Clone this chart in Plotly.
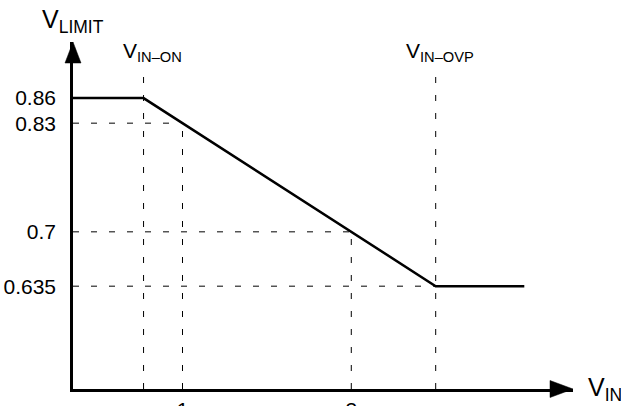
import plotly.graph_objects as go

# ---- data (read from the schematic) ----
y_tick_vals = [0.86, 0.83, 0.7, 0.635]
y_tick_text = ["0.86", "0.83", "0.7", "0.635"]
x_tick_vals = [1, 3]
x_tick_text = ["1", "3"]

v_limit_high = 0.86
v_limit_low = 0.635
x_in_on = 0.5385      # V_IN-ON (estimated)
x_in_ovp = 4.0        # V_IN-OVP (estimated)
x_end = 5.05          # end of drawn curve
guide_points_x = [1, 3]
guide_points_y = [0.83, 0.7]

X_RANGE = [-0.2974, 5.627]
Y_RANGE = [0.5120, 0.9271]

# ---- layout geometry ----
W, H = 621, 406
ML, MR, MT, MB = 73, 48, 42, 17
PW, PH = W - ML - MR, H - MT - MB


def px(x):
    return (x - ML) / PW


def py(y):
    return (H - MB - y) / PH


FONT = "Liberation Sans, Arial, sans-serif"
DASH = "6px,12px"

fig = go.Figure()

# main limiting curve
fig.add_trace(go.Scatter(
    x=[X_RANGE[0], x_in_on, x_in_ovp, x_end],
    y=[v_limit_high, v_limit_high, v_limit_low, v_limit_low],
    mode="lines",
    line=dict(color="black", width=2.5),
    hoverinfo="skip",
    showlegend=False,
    cliponaxis=False,
))

shapes = []
# guides through the reference points
for gx, gy in zip(guide_points_x, guide_points_y):
    shapes.append(dict(type="line", xref="x", yref="y", x0=X_RANGE[0], x1=gx, y0=gy, y1=gy,
                       line=dict(color="black", width=1, dash=DASH)))
    shapes.append(dict(type="line", xref="x", yref="y", x0=gx, x1=gx, y0=Y_RANGE[0], y1=gy,
                       line=dict(color="black", width=1, dash=DASH)))
# 0.635 guide
shapes.append(dict(type="line", xref="x", yref="y", x0=X_RANGE[0], x1=x_in_ovp,
                   y0=v_limit_low, y1=v_limit_low,
                   line=dict(color="black", width=1, dash=DASH)))
# V_IN-ON / V_IN-OVP verticals
for vx in [x_in_on, x_in_ovp]:
    shapes.append(dict(type="line", xref="x", yref="paper", x0=vx, x1=vx, y0=0, y1=py(68),
                       line=dict(color="black", width=1, dash=DASH)))
# arrow heads
shapes.append(dict(type="path", xref="paper", yref="paper",
                   path=f"M 0,1 L {-8/PW},{py(63)} L {8/PW},{py(63)} Z",
                   fillcolor="black", line=dict(color="black", width=0.5)))
shapes.append(dict(type="path", xref="paper", yref="paper",
                   path=f"M 1,0 L {px(550)},{8.5/PH} L {px(550)},{-8.5/PH} Z",
                   fillcolor="black", line=dict(color="black", width=0.5)))

annotations = [
    dict(text="V<sub>LIMIT</sub>", x=px(40), y=py(21), xanchor="left", yanchor="middle",
         font=dict(size=25, family=FONT, color="black")),
    dict(text="V<sub>IN–ON</sub>", x=px(121), y=py(52), xanchor="left", yanchor="middle",
         font=dict(size=21, family=FONT, color="black")),
    dict(text="V<sub>IN–OVP</sub>", x=px(404), y=py(52), xanchor="left", yanchor="middle",
         font=dict(size=21, family=FONT, color="black")),
    dict(text="V<sub>IN</sub>", x=px(586), y=py(389), xanchor="left", yanchor="middle",
         font=dict(size=25, family=FONT, color="black")),
]
for a in annotations:
    a.update(xref="paper", yref="paper", showarrow=False)

fig.update_layout(
    width=W, height=H,
    margin=dict(l=ML, r=MR, t=MT, b=MB, pad=0, autoexpand=False),
    paper_bgcolor="white", plot_bgcolor="white",
    shapes=shapes, annotations=annotations,
    font=dict(family=FONT, color="black", size=21),
    xaxis=dict(range=X_RANGE, showgrid=False, zeroline=False, showline=True, automargin=False,
               linecolor="black", linewidth=2.5, tickvals=x_tick_vals, ticktext=x_tick_text,
               ticks="", ticklabelstandoff=0, tickfont=dict(size=21, family=FONT)),
    yaxis=dict(range=Y_RANGE, showgrid=False, zeroline=False, showline=True, automargin=False,
               linecolor="black", linewidth=2.5, tickvals=y_tick_vals, ticktext=y_tick_text,
               ticks="", ticklabelstandoff=10, tickfont=dict(size=21, family=FONT)),
)

fig.write_html("out.html", config={"displayModeBar": False},
               post_script="document.body.style.margin='0';document.body.style.overflow='hidden';")
